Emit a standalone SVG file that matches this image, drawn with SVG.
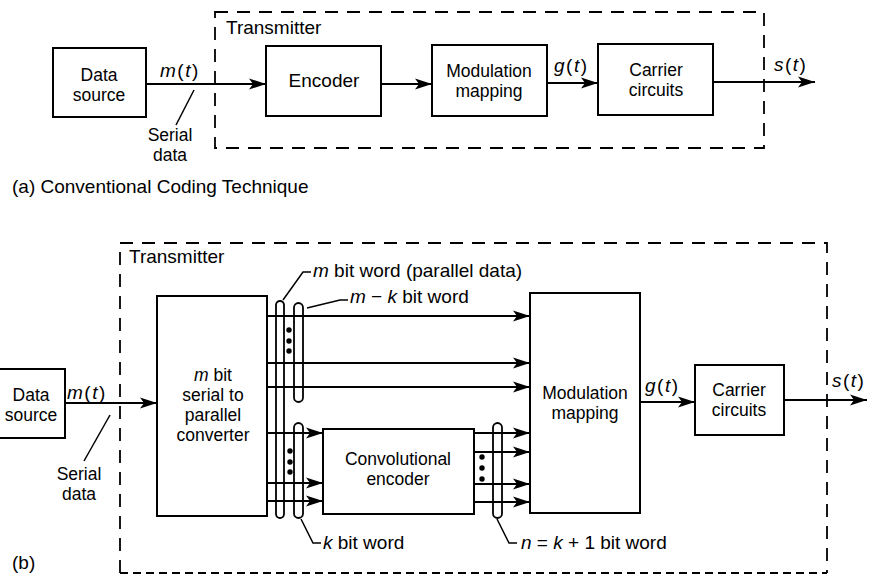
<svg xmlns="http://www.w3.org/2000/svg" width="869" height="575" viewBox="0 0 869 575">
<defs>
<marker id="ah" markerUnits="userSpaceOnUse" markerWidth="19" markerHeight="12" refX="17" refY="5.5" orient="auto" overflow="visible">
<path d="M0,0 L17,5.5 L0,11 L4,5.5 Z" fill="#000"/>
</marker>
</defs>
<style>
.box{fill:none;stroke:#000;stroke-width:2}
.ar{fill:none;stroke:#000;stroke-width:1.8;marker-end:url(#ah)}
.thin{fill:none;stroke:#000;stroke-width:1.5}
.dash{fill:none;stroke:#000;stroke-width:1.8;stroke-dasharray:13 9}
.dash2{fill:none;stroke:#000;stroke-width:1.8;stroke-dasharray:8 5}
.oval{fill:none;stroke:#000;stroke-width:1.8}
text{font-family:"Liberation Sans",Arial,sans-serif;font-size:19px;fill:#000}
.c{text-anchor:middle}
.i{font-style:italic}
.s{font-size:17.5px}
</style>
<rect width="869" height="575" fill="#fff"/>

<!-- Part (a) -->
<g id="a-transmitter">
<path class="dash" d="M215,12 H764 V148 H215 Z"/>
<text x="226" y="34">Transmitter</text>
</g>
<g id="a-datasource">
<rect class="box" x="53" y="48" width="93" height="69"/>
<text class="c s" x="99" y="81">Data</text>
<text class="c s" x="99" y="101">source</text>
</g>
<g id="a-encoder">
<rect class="box" x="266" y="46" width="115" height="70"/>
<text class="c" x="324" y="87">Encoder</text>
</g>
<g id="a-modmap">
<rect class="box" x="432" y="45" width="115" height="71"/>
<text class="c s" x="489" y="77">Modulation</text>
<text class="c s" x="489" y="97">mapping</text>
</g>
<g id="a-carrier">
<rect class="box" x="598" y="44" width="115" height="71"/>
<text class="c s" x="656" y="76">Carrier</text>
<text class="c s" x="656" y="96">circuits</text>
</g>
<g id="a-connectors">
<line class="ar" x1="146" y1="84" x2="266" y2="84"/>
<line class="ar" x1="381" y1="84" x2="432" y2="84"/>
<line class="ar" x1="547" y1="83" x2="598" y2="83"/>
<line class="ar" x1="713" y1="82" x2="815" y2="82"/>
<line class="thin" x1="194" y1="90" x2="176" y2="125"/>
</g>
<g id="a-labels">
<text x="160" y="77" letter-spacing="1.5"><tspan class="i">m</tspan>(<tspan class="i">t</tspan>)</text>
<text class="c s" x="170" y="141">Serial</text>
<text class="c s" x="170" y="161">data</text>
<text x="554" y="72" letter-spacing="1.5"><tspan class="i">g</tspan>(<tspan class="i">t</tspan>)</text>
<text x="774" y="71" letter-spacing="1.5"><tspan class="i">s</tspan>(<tspan class="i">t</tspan>)</text>
<text x="12" y="193">(a) Conventional Coding Technique</text>
</g>

<!-- Part (b) -->
<g id="b-transmitter">
<path class="dash" d="M120,573 V243 H827 V573"/>
<path class="dash2" d="M120,573 H827"/>
<text x="129" y="263">Transmitter</text>
</g>
<g id="b-datasource">
<rect class="box" x="-2" y="369" width="67" height="69"/>
<text class="c s" x="31" y="401">Data</text>
<text class="c s" x="31" y="421">source</text>
</g>
<g id="b-converter">
<rect class="box" x="157" y="296" width="110" height="220"/>
<text class="c s" x="213" y="381"><tspan class="i">m</tspan> bit</text>
<text class="c s" x="213" y="401">serial to</text>
<text class="c s" x="213" y="421">parallel</text>
<text class="c s" x="213" y="441">converter</text>
</g>
<g id="b-convenc">
<rect class="box" x="323" y="429" width="151" height="85"/>
<text class="c s" x="398" y="465">Convolutional</text>
<text class="c s" x="398" y="485">encoder</text>
</g>
<g id="b-modmap">
<rect class="box" x="530" y="293" width="110" height="220"/>
<text class="c s" x="585" y="399">Modulation</text>
<text class="c s" x="585" y="419">mapping</text>
</g>
<g id="b-carrier">
<rect class="box" x="695" y="365" width="89" height="70"/>
<text class="c s" x="739" y="396">Carrier</text>
<text class="c s" x="739" y="416">circuits</text>
</g>
<g id="b-connectors">
<line class="ar" x1="65" y1="403" x2="157" y2="403"/>
<line class="ar" x1="267" y1="316" x2="530" y2="316"/>
<line class="ar" x1="267" y1="363" x2="530" y2="363"/>
<line class="ar" x1="267" y1="387" x2="530" y2="387"/>
<line class="ar" x1="267" y1="433" x2="323" y2="433"/>
<line class="ar" x1="267" y1="483" x2="323" y2="483"/>
<line class="ar" x1="267" y1="501" x2="323" y2="501"/>
<line class="ar" x1="474" y1="433" x2="530" y2="433"/>
<line class="ar" x1="474" y1="452" x2="530" y2="452"/>
<line class="ar" x1="474" y1="484" x2="530" y2="484"/>
<line class="ar" x1="474" y1="502" x2="530" y2="502"/>
<line class="ar" x1="640" y1="402" x2="695" y2="402"/>
<line class="ar" x1="784" y1="400" x2="867" y2="400"/>
<line class="thin" x1="110" y1="415" x2="84" y2="461"/>
</g>
<g id="b-buses">
<rect class="oval" x="276" y="301" width="8" height="217" rx="4"/>
<rect class="oval" x="294" y="303" width="9" height="99" rx="4.5"/>
<rect class="oval" x="294" y="423" width="9" height="95" rx="4.5"/>
<rect class="oval" x="493" y="423" width="9" height="95" rx="4.5"/>
<circle cx="289" cy="330" r="2.7"/>
<circle cx="289" cy="341" r="2.7"/>
<circle cx="289" cy="351" r="2.7"/>
<circle cx="290" cy="451" r="2.7"/>
<circle cx="290" cy="462" r="2.7"/>
<circle cx="290" cy="472" r="2.7"/>
<circle cx="482" cy="457" r="2.7"/>
<circle cx="482" cy="468" r="2.7"/>
<circle cx="482" cy="479" r="2.7"/>
<path class="thin" d="M283,300 L303,272 H311"/>
<path class="thin" d="M307,308 L340,300 H348"/>
<path class="thin" d="M301,519 L313,543 H321"/>
<path class="thin" d="M497,519 L509,543 H517"/>
</g>
<g id="b-labels">
<text x="313" y="277"><tspan class="i">m</tspan> bit word (parallel data)</text>
<text x="350" y="303"><tspan class="i">m</tspan> − <tspan class="i">k</tspan>  bit word</text>
<text x="323" y="549"><tspan class="i">k</tspan> bit word</text>
<text x="521" y="549"><tspan class="i">n</tspan> = <tspan class="i">k</tspan> + 1 bit word</text>
<text x="67" y="399" letter-spacing="1.5"><tspan class="i">m</tspan>(<tspan class="i">t</tspan>)</text>
<text class="c s" x="79" y="480">Serial</text>
<text class="c s" x="79" y="500">data</text>
<text x="645" y="392" letter-spacing="1.5"><tspan class="i">g</tspan>(<tspan class="i">t</tspan>)</text>
<text x="832" y="387" letter-spacing="1.5"><tspan class="i">s</tspan>(<tspan class="i">t</tspan>)</text>
<text x="12" y="569">(b)</text>
</g>
</svg>
